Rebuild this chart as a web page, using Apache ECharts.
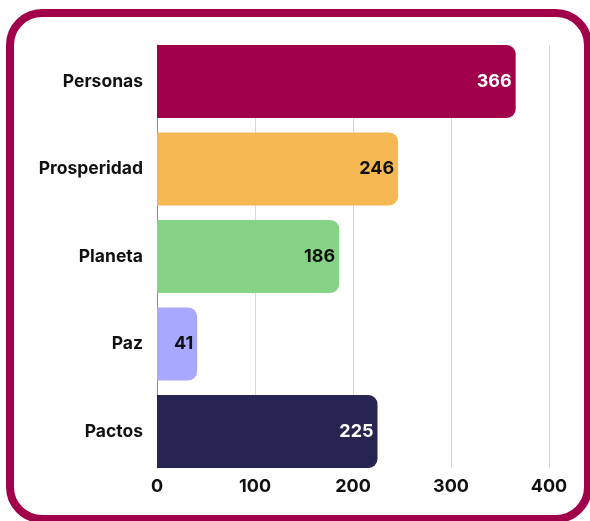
<!DOCTYPE html>
<html><head><meta charset="utf-8">
<script src="https://cdn.jsdelivr.net/npm/echarts@6/dist/echarts.min.js"></script>
<style>html,body{margin:0;padding:0;background:#fff}#c{width:590px;height:521px}</style>
</head><body><div id="c"></div>
<script>
const categories = ["Personas", "Prosperidad", "Planeta", "Paz", "Pactos"];
const values = [366, 246, 186, 41, 225];
const xTicks = [0, 100, 200, 300, 400];

const barColors = ["#A1004B", "#F6B853", "#85D485", "#A9A8FF", "#272451"];
const labelColors = ["#ffffff", "#111111", "#111111", "#111111", "#ffffff"];
const FONT = "Inter";

const chart = echarts.init(document.getElementById('c'), null, {renderer: 'canvas'});
chart.setOption({
  animation: false,
  textStyle: {fontFamily: FONT},
  graphic: [{
    type: 'rect', z: -10,
    shape: {x: 10, y: 13, width: 578, height: 506, r: 32},
    style: {fill: '#ffffff', stroke: '#A1004B', lineWidth: 8}
  }],
  grid: [
    {left: 157, width: 392, top: 37.75, height: 437.5, containLabel: false},
    {left: 157, width: 392, top: 45, height: 423, containLabel: false}
  ],
  xAxis: [
    {gridIndex: 0, type: 'value', min: 0, max: 400, interval: 100,
     axisLine: {show: false}, axisTick: {show: false}, splitLine: {show: false}, axisLabel: {show: false}},
    {gridIndex: 1, type: 'value', min: xTicks[0], max: xTicks[xTicks.length - 1], interval: 100,
     axisLine: {show: false}, axisTick: {show: false},
     splitLine: {show: true, lineStyle: {color: '#d6d6d6', width: 1}},
     axisLabel: {show: true, margin: 10, color: '#111', fontSize: 18, fontWeight: 'bold', fontFamily: FONT}}
  ],
  yAxis: [
    {gridIndex: 0, type: 'category', data: categories, inverse: true, boundaryGap: true,
     axisLine: {show: false}, axisTick: {show: false}, splitLine: {show: false},
     axisLabel: {margin: 14, color: '#111', fontSize: 17.5, fontWeight: 'bold', fontFamily: FONT}},
    {gridIndex: 1, type: 'value', min: 0, max: 1, show: true,
     axisLine: {show: true, lineStyle: {color: '#8a8a8a', width: 1}}, axisTick: {show: false},
     splitLine: {show: false}, axisLabel: {show: false}}
  ],
  series: [
    {type: 'bar', xAxisIndex: 0, yAxisIndex: 0, barWidth: 73,
     data: values.map((v, i) => ({
       value: v,
       itemStyle: {color: barColors[i], borderRadius: [0, 9, 9, 0]},
       label: {color: labelColors[i]}
     })),
     label: {show: true, position: 'insideRight', distance: 4, fontSize: 18, fontWeight: 'bold', fontFamily: FONT},
     z: 5},
    {type: 'scatter', xAxisIndex: 1, yAxisIndex: 1, data: [], silent: true}
  ]
});
</script></body></html>
